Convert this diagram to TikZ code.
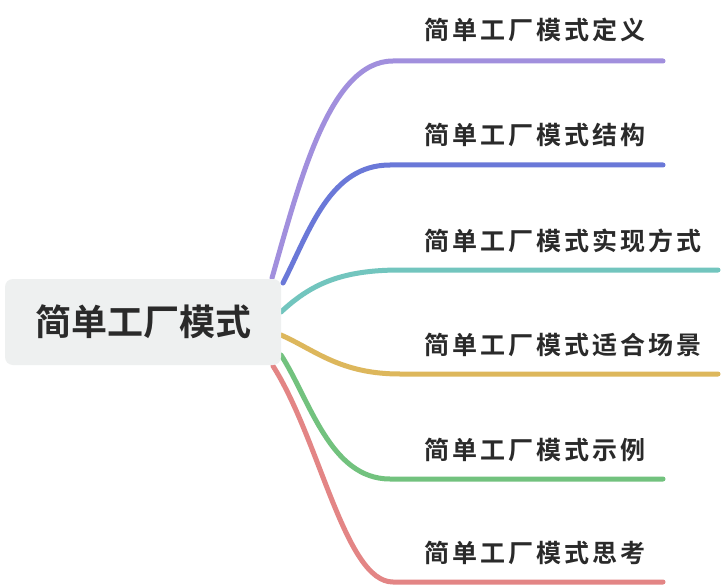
\documentclass[tikz,border=0pt]{standalone}
\usepackage{fontspec}
\newfontfamily\cjkroot{Noto Sans CJK SC}[BoldFont={* Bold}]
\newfontfamily\cjkleaf{Noto Sans CJK SC}[BoldFont={* Bold},LetterSpace=12]
\definecolor{cPurple}{HTML}{A18FDD}
\definecolor{cBlue}{HTML}{6A78D8}
\definecolor{cTeal}{HTML}{72C5BE}
\definecolor{cGold}{HTML}{DDB75C}
\definecolor{cGreen}{HTML}{72C27E}
\definecolor{cRed}{HTML}{E38585}
\definecolor{rootfill}{HTML}{EEF0F0}
\definecolor{txt}{HTML}{2A2A2A}
\begin{document}
\begin{tikzpicture}[x=1pt,y=-1pt,
  branch/.style={line width=5pt,line cap=round},
  leaf/.style={anchor=west,inner sep=0pt,text=txt,font=\cjkleaf\bfseries\fontsize{25pt}{25pt}\selectfont},
  rootbox/.style={fill=rootfill,rounded corners=8pt,minimum width=276pt,minimum height=86pt,inner sep=0pt,text=txt,font=\cjkroot\bfseries\fontsize{36pt}{36pt}\selectfont}]
\useasboundingbox (0,0) rectangle (722,588);
\fill[white] (0,0) rectangle (722,588);
% coordinates
\coordinate (s1) at (272,278); \coordinate (h1) at (393,61);  \coordinate (e1) at (663,61);
\coordinate (s2) at (283,283); \coordinate (h2) at (390,165); \coordinate (e2) at (663,165);
\coordinate (s3) at (281,312); \coordinate (h3) at (400,270); \coordinate (e3) at (718,270);
\coordinate (s4) at (281,335); \coordinate (h4) at (400,374); \coordinate (e4) at (718,374);
\coordinate (s5) at (281,355); \coordinate (h5) at (390,479); \coordinate (e5) at (663,479);
\coordinate (s6) at (273,366); \coordinate (h6) at (393,582); \coordinate (e6) at (663,582);
% branches
\draw[branch,cPurple] (s1) .. controls (300,180) and (330,61) .. (h1) -- (e1);
\draw[branch,cBlue] (s2) .. controls (310,230) and (330,165) .. (h2) -- (e2);
\draw[branch,cTeal] (s3) .. controls (310,285) and (340,270) .. (h3) -- (e3);
\draw[branch,cGold] (s4) .. controls (315,350) and (340,374) .. (h4) -- (e4);
\draw[branch,cGreen] (s5) .. controls (310,400) and (330,479) .. (h5) -- (e5);
\draw[branch,cRed] (s6) .. controls (320,440) and (345,582) .. (h6) -- (e6);
% root
\node[rootbox] (root) at (143,322) {简单工厂模式};
% leaves
\node[leaf] (t1) at (424,30) {简单工厂模式定义};
\node[leaf] (t2) at (424,135) {简单工厂模式结构};
\node[leaf] (t3) at (424,241) {简单工厂模式实现方式};
\node[leaf] (t4) at (424,345) {简单工厂模式适合场景};
\node[leaf] (t5) at (424,450) {简单工厂模式示例};
\node[leaf] (t6) at (424,553) {简单工厂模式思考};
\end{tikzpicture}
\end{document}
